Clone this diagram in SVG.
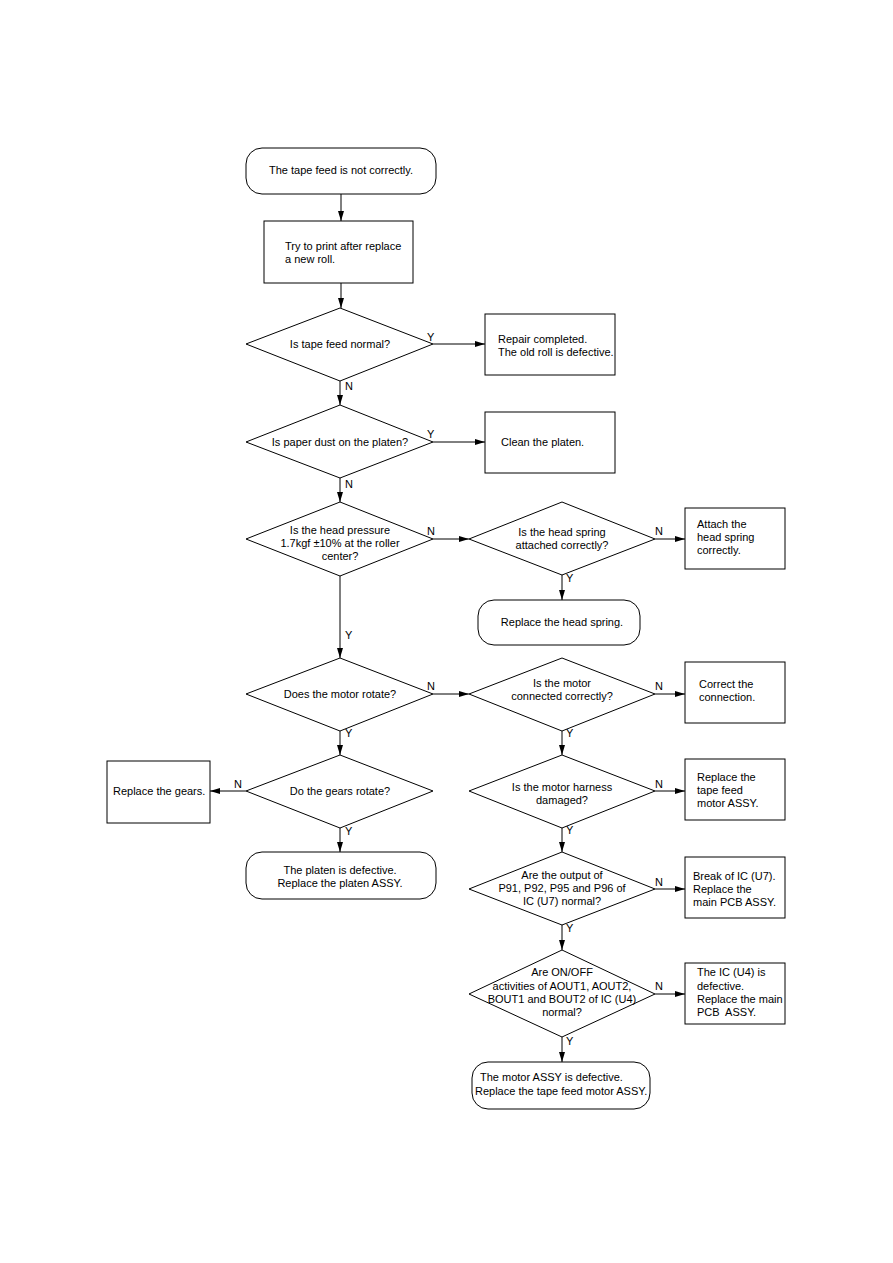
<svg xmlns="http://www.w3.org/2000/svg" width="893" height="1263" viewBox="0 0 893 1263">
<style>
.s{fill:#fff;stroke:#000;stroke-width:1}
.t{font-family:"Liberation Sans",Arial,sans-serif;font-size:11px;fill:#000}
.c{text-anchor:middle}
.l{fill:none;stroke:#000;stroke-width:1}
</style>
<defs>
<marker id="a" viewBox="0 0 10 6" refX="10" refY="3" markerWidth="10" markerHeight="6" markerUnits="userSpaceOnUse" orient="auto">
<path d="M0,0L10,3L0,6z" fill="#000"/>
</marker>
</defs>
<rect width="893" height="1263" fill="#fff"/>
<g id="connectors">
<path class="l" d="M341,194V221" marker-end="url(#a)"/>
<path class="l" d="M341,283V308" marker-end="url(#a)"/>
<path class="l" d="M433,344H485" marker-end="url(#a)"/>
<path class="l" d="M340,381V405" marker-end="url(#a)"/>
<path class="l" d="M433,442H485" marker-end="url(#a)"/>
<path class="l" d="M340,478V502" marker-end="url(#a)"/>
<path class="l" d="M433,539H469" marker-end="url(#a)"/>
<path class="l" d="M655,539H685" marker-end="url(#a)"/>
<path class="l" d="M562,575V600" marker-end="url(#a)"/>
<path class="l" d="M340,576V658" marker-end="url(#a)"/>
<path class="l" d="M433,694H469" marker-end="url(#a)"/>
<path class="l" d="M655,694H685" marker-end="url(#a)"/>
<path class="l" d="M562,731V755" marker-end="url(#a)"/>
<path class="l" d="M340,731V755" marker-end="url(#a)"/>
<path class="l" d="M246,791H210" marker-end="url(#a)"/>
<path class="l" d="M340,828V852" marker-end="url(#a)"/>
<path class="l" d="M655,791H685" marker-end="url(#a)"/>
<path class="l" d="M562,828V852" marker-end="url(#a)"/>
<path class="l" d="M655,889H685" marker-end="url(#a)"/>
<path class="l" d="M562,925V950" marker-end="url(#a)"/>
<path class="l" d="M655,994H685" marker-end="url(#a)"/>
<path class="l" d="M562,1037V1062" marker-end="url(#a)"/>
<text class="t" x="427" y="341">Y</text>
<text class="t" x="345" y="390">N</text>
<text class="t" x="427" y="438">Y</text>
<text class="t" x="345" y="488">N</text>
<text class="t" x="427" y="535">N</text>
<text class="t" x="655" y="535">N</text>
<text class="t" x="566" y="582">Y</text>
<text class="t" x="345" y="639">Y</text>
<text class="t" x="427" y="690">N</text>
<text class="t" x="655" y="690">N</text>
<text class="t" x="566" y="737">Y</text>
<text class="t" x="345" y="737">Y</text>
<text class="t" x="234" y="788">N</text>
<text class="t" x="345" y="835">Y</text>
<text class="t" x="655" y="788">N</text>
<text class="t" x="566" y="834">Y</text>
<text class="t" x="655" y="886">N</text>
<text class="t" x="566" y="932">Y</text>
<text class="t" x="655" y="990">N</text>
<text class="t" x="566" y="1045">Y</text>
</g>
<g id="start">
<rect class="s" x="246" y="148" width="190" height="46" rx="16"/>
<text class="t c" x="341" y="174">The tape feed is not correctly.</text>
</g>
<g id="replaceRoll">
<rect class="s" x="264" y="221" width="149" height="62"/>
<text class="t" x="285" y="250">Try to print after replace</text>
<text class="t" x="285" y="263">a new roll.</text>
</g>
<g id="d1">
<polygon class="s" points="340,308 433,344 340,381 246,344"/>
<text class="t c" x="340" y="348">Is tape feed normal?</text>
</g>
<g id="repairCompleted">
<rect class="s" x="485" y="314" width="130" height="61"/>
<text class="t" x="498" y="343">Repair completed.</text>
<text class="t" x="498" y="356">The old roll is defective.</text>
</g>
<g id="d2">
<polygon class="s" points="340,405 433,442 340,478 246,442"/>
<text class="t c" x="340" y="446">Is paper dust on the platen?</text>
</g>
<g id="cleanPlaten">
<rect class="s" x="485" y="412" width="130" height="61"/>
<text class="t" x="501" y="446">Clean the platen.</text>
</g>
<g id="d3">
<polygon class="s" points="340,502 433,539 340,576 246,539"/>
<text class="t c" x="340" y="534">Is the head pressure</text>
<text class="t c" x="340" y="547">1.7kgf ±10% at the roller</text>
<text class="t c" x="340" y="560">center?</text>
</g>
<g id="d4">
<polygon class="s" points="562,502 655,539 562,575 469,539"/>
<text class="t c" x="562" y="536">Is the head spring</text>
<text class="t c" x="562" y="549">attached correctly?</text>
</g>
<g id="attachSpring">
<rect class="s" x="685" y="508" width="100" height="61"/>
<text class="t" x="697" y="528">Attach the</text>
<text class="t" x="697" y="541">head spring</text>
<text class="t" x="697" y="554">correctly.</text>
</g>
<g id="replaceSpring">
<rect class="s" x="478" y="600" width="162" height="45" rx="16"/>
<text class="t c" x="562" y="626">Replace the head spring.</text>
</g>
<g id="d5">
<polygon class="s" points="340,658 433,694 340,731 246,694"/>
<text class="t c" x="340" y="698">Does the motor rotate?</text>
</g>
<g id="d6">
<polygon class="s" points="562,658 655,694 562,731 469,694"/>
<text class="t c" x="562" y="687">Is the motor</text>
<text class="t c" x="562" y="700">connected correctly?</text>
</g>
<g id="correctConnection">
<rect class="s" x="685" y="662" width="100" height="61"/>
<text class="t" x="699" y="688">Correct the</text>
<text class="t" x="699" y="701">connection.</text>
</g>
<g id="d7">
<polygon class="s" points="340,755 433,791 340,828 246,791"/>
<text class="t c" x="340" y="795">Do the gears rotate?</text>
</g>
<g id="replaceGears">
<rect class="s" x="107" y="761" width="103" height="62"/>
<text class="t" x="113" y="795">Replace the gears.</text>
</g>
<g id="platenDefective">
<rect class="s" x="246" y="852" width="190" height="47" rx="16"/>
<text class="t c" x="340" y="874">The platen is defective.</text>
<text class="t c" x="340" y="887">Replace the platen ASSY.</text>
</g>
<g id="d8">
<polygon class="s" points="562,755 655,791 562,828 469,791"/>
<text class="t c" x="562" y="791">Is the motor harness</text>
<text class="t c" x="562" y="804">damaged?</text>
</g>
<g id="replaceMotor">
<rect class="s" x="685" y="759" width="100" height="61"/>
<text class="t" x="697" y="781">Replace the</text>
<text class="t" x="697" y="794">tape feed</text>
<text class="t" x="697" y="807">motor ASSY.</text>
</g>
<g id="d9">
<polygon class="s" points="562,852 655,889 562,925 469,889"/>
<text class="t c" x="562" y="879">Are the output of</text>
<text class="t c" x="562" y="892">P91, P92, P95 and P96 of</text>
<text class="t c" x="562" y="905">IC (U7) normal?</text>
</g>
<g id="breakU7">
<rect class="s" x="685" y="857" width="100" height="61"/>
<text class="t" x="693" y="880">Break of IC (U7).</text>
<text class="t" x="693" y="893">Replace the</text>
<text class="t" x="693" y="906">main PCB ASSY.</text>
</g>
<g id="d10">
<polygon class="s" points="562,950 655,994 562,1037 469,994"/>
<text class="t c" x="562" y="976">Are ON/OFF</text>
<text class="t c" x="562" y="990">activities of AOUT1, AOUT2,</text>
<text class="t c" x="562" y="1003">BOUT1 and BOUT2 of IC (U4)</text>
<text class="t c" x="562" y="1016">normal?</text>
</g>
<g id="u4Defective">
<rect class="s" x="685" y="963" width="100" height="61"/>
<text class="t" x="697" y="976">The IC (U4) is</text>
<text class="t" x="697" y="990">defective.</text>
<text class="t" x="697" y="1003">Replace the main</text>
<text class="t" x="697" y="1016" xml:space="preserve">PCB  ASSY.</text>
</g>
<g id="motorDefective">
<rect class="s" x="472" y="1062" width="178" height="47" rx="16"/>
<text class="t" x="480" y="1081">The motor ASSY is defective.</text>
<text class="t" x="475" y="1095">Replace the tape feed motor ASSY.</text>
</g>
</svg>
